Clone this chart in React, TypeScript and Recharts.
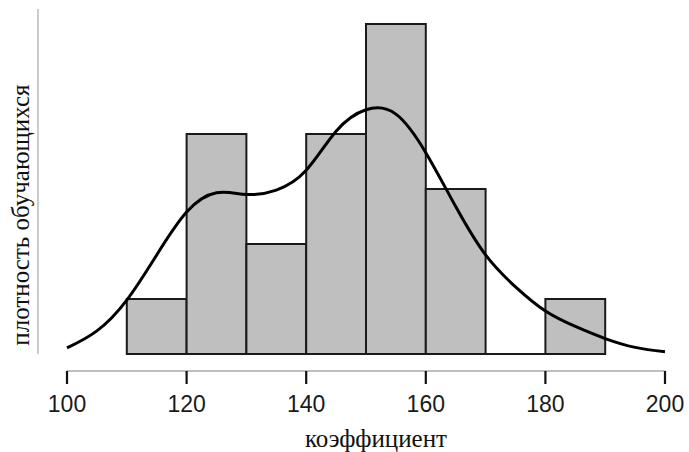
import React from 'react';
import { ComposedChart, Line, XAxis, YAxis, ReferenceArea, ReferenceLine } from 'recharts';

// histogram bins (left edge, right edge, count)
const binStarts = [110, 120, 130, 140, 150, 160, 170, 180];
const binEnds = [120, 130, 140, 150, 160, 170, 180, 190];
const binCounts = [1, 4, 2, 4, 6, 3, 0, 1];

// density curve, scaled to counts
const curveX = [100, 105, 110, 115, 120, 125, 130, 135, 140, 145, 150, 155, 160, 165, 170, 175, 180, 185, 190, 195, 200];
const curveY = [0.11, 0.42, 0.98, 1.8, 2.58, 2.93, 2.9, 2.98, 3.34, 4.05, 4.44, 4.36, 3.66, 2.68, 1.8, 1.22, 0.78, 0.5, 0.28, 0.12, 0.04];

const xTicks = [100, 120, 140, 160, 180, 200];

const curveData = curveX.map((x, i) => ({ x, density: curveY[i] }));

const serif = '"Liberation Serif", "Times New Roman", serif';
const sans = '"Liberation Sans", Arial, sans-serif';

const App: React.FC = () => {
  return (
    <div style={{ position: 'absolute', left: 0, top: 0, background: '#fff' }}>
      <ComposedChart
        width={689}
        height={452}
        data={curveData}
        margin={{ top: 8, right: 24, left: 0, bottom: 0 }}
      >
        <XAxis
          dataKey="x"
          type="number"
          domain={[100, 200]}
          ticks={xTicks}
          height={81}
          axisLine={{ stroke: '#aaaaaa', strokeWidth: 1.5 }}
          tickLine={{ stroke: '#111', strokeWidth: 2.2 }}
          tickSize={13}
          tickMargin={12}
          tick={{ fill: '#1a1a1a', fontSize: 23, fontFamily: sans }}
          label={{
            content: () => (
              <text x={376} y={447} textAnchor="middle" fontFamily={serif} fontSize={25} fill="#111">
                коэффициент
              </text>
            ),
          }}
        />
        <YAxis
          type="number"
          domain={[-0.31, 6.29]}
          width={67}
          axisLine={false}
          tickLine={false}
          tick={false}
          label={{
            content: () => (
              <text
                x={0}
                y={0}
                transform="translate(29,215) rotate(-90)"
                textAnchor="middle"
                fontFamily={serif}
                fontSize={25}
                fill="#111"
              >
                плотность обучающихся
              </text>
            ),
          }}
        />
        <ReferenceLine
          segment={[{ x: 95.15, y: 0 }, { x: 95.15, y: 6.27 }]}
          stroke="#bbbbbb"
          strokeWidth={1.5}
          ifOverflow="visible"
        />
        {binStarts.map((start, i) =>
          binCounts[i] > 0 ? (
            <ReferenceArea
              key={`bin-${start}`}
              x1={start}
              x2={binEnds[i]}
              y1={0}
              y2={binCounts[i]}
              fill="#bfbfbf"
              fillOpacity={1}
              stroke="#1a1a1a"
              strokeWidth={2}
              ifOverflow="visible"
            />
          ) : null
        )}
        <ReferenceLine
          segment={[{ x: 170, y: 0 }, { x: 180, y: 0 }]}
          stroke="#1a1a1a"
          strokeWidth={2}
        />
        <Line
          dataKey="density"
          type="natural"
          stroke="#000"
          strokeWidth={3}
          dot={false}
          isAnimationActive={false}
        />
      </ComposedChart>
    </div>
  );
};

export default App;
